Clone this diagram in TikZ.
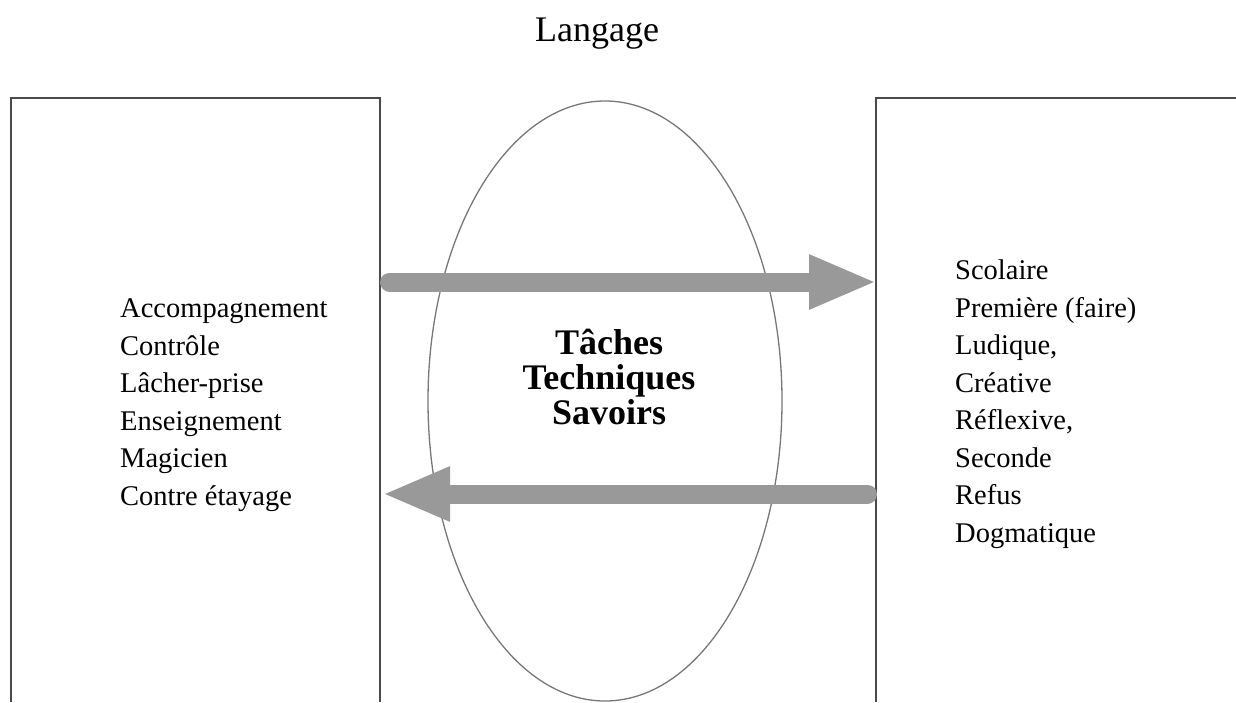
\documentclass[tikz,border=0pt]{standalone}
\usepackage{fontspec}
\setmainfont{Liberation Serif}
\usetikzlibrary{arrows.meta}
\definecolor{arrowgray}{HTML}{999999}
\definecolor{boxline}{HTML}{4A4A4A}
\definecolor{ellline}{HTML}{777777}
\begin{document}
\begin{tikzpicture}[x=1pt,y=-1pt,
  boxedge/.style={draw=boxline,line width=1.4pt},
  ring/.style={draw=ellline,line width=1.3pt},
  bigarrow/.style={draw=arrowgray,line width=19pt,line cap=round,
     -{Triangle[length=68pt,width=50pt]}},
  listtext/.style={align=left,inner sep=0pt,font=\fontsize{28.5}{37.5}\selectfont},
  centertext/.style={align=center,inner sep=0pt,font=\fontsize{36}{35}\selectfont\bfseries},
  titletext/.style={inner sep=0pt,font=\fontsize{36}{40}\selectfont}]
\useasboundingbox (0,0) rectangle (1236,702);
% boxes (open at bottom / right)
\draw[boxedge] (11,702) -- (11,98) -- (380,98) -- (380,702);
\draw[boxedge] (1236,98) -- (876,98) -- (876,702);
% ellipse
\draw[ring] (605,401) ellipse [x radius=177, y radius=300];
% title
\node[titletext,anchor=base] (title) at (597,41.5) {Langage};
% arrows
\coordinate (a1start) at (389.5,282);
\coordinate (a1end) at (877,282);
\coordinate (a2start) at (867.5,494);
\coordinate (a2end) at (382,494);
\draw[bigarrow] (a1start) -- (a1end);
\draw[bigarrow] (a2start) -- (a2end);
% texts
\node[listtext,anchor=west] (left) at (120,405) {Accompagnement\\Contrôle\\Lâcher-prise\\Enseignement\\Magicien\\Contre étayage};
\node[listtext,anchor=west] (right) at (955,404) {Scolaire\\Première (faire)\\Ludique,\\Créative\\Réflexive,\\Seconde\\Refus\\Dogmatique};
\node[centertext] (center) at (609,377) {Tâches\\Techniques\\Savoirs};
\end{tikzpicture}
\end{document}
